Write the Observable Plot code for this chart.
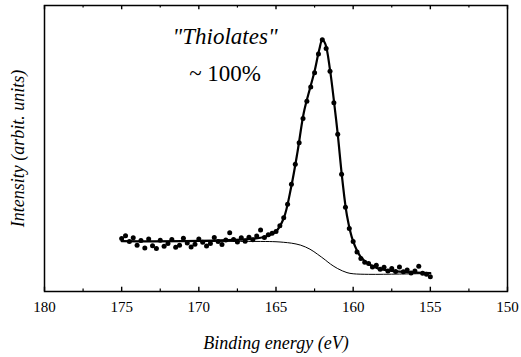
<!DOCTYPE html>
<html>
<head>
<meta charset="utf-8">
<script src="https://cdn.jsdelivr.net/npm/d3@7"></script>
<script src="https://cdn.jsdelivr.net/npm/@observablehq/plot@0.6"></script>
</head>
<body style="margin:0;background:#fff">
<div id="chart"></div>
<script>
// Binding energy (eV) of measured points and their intensities (arbitrary units)
const dataE = [175.0,174.75,174.5,174.25,174.0,173.75,173.5,173.25,173.0,172.75,172.5,172.25,172.0,171.75,171.5,171.25,171.0,170.75,170.5,170.25,170.0,169.75,169.5,169.25,169.0,168.75,168.5,168.25,168.0,167.75,167.5,167.25,167.0,166.75,166.5,166.25,166.0,165.75,165.5,165.25,165.0,164.75,164.5,164.25,164.0,163.75,163.5,163.25,163.0,162.75,162.5,162.25,162.0,161.75,161.5,161.25,161.0,160.75,160.5,160.25,160.0,159.75,159.5,159.25,159.0,158.75,158.5,158.25,158.0,157.75,157.5,157.25,157.0,156.75,156.5,156.25,156.0,155.75,155.5,155.25,155.0];
const dataI = [18.5,19.5,17.5,18.8,16.2,17.8,15.2,18.4,16.0,15.0,17.9,15.8,16.8,18.2,15.5,16.2,18.6,17.0,15.6,16.5,18.4,17.2,15.9,16.8,18.9,17.5,16.4,18.0,20.5,18.2,17.3,18.8,17.6,19.0,18.1,19.4,21.5,18.9,19.8,20.4,21.0,23.0,25.8,30.5,37.5,44.5,52.0,60.5,66.5,71.5,76.5,83.0,88.0,85.0,77.0,66.0,55.0,41.0,29.5,22.0,17.5,13.8,11.5,10.2,9.8,8.6,9.2,7.8,8.5,7.2,8.0,7.0,8.6,6.9,7.5,6.5,7.2,8.8,6.4,6.0,5.2];

// Fitted envelope
const fitE = [175,173,171,169,167,166,165.5,165,164.5,164.0,163.6,163.2,162.8,162.5,162.2,162.0,161.8,161.5,161.2,161.0,160.7,160.4,160.0,159.5,159.0,158.4,157.5,156.5,155];
const fitI = [17.6,17.5,17.6,17.8,18.2,18.8,19.5,21.0,25.6,37.0,49.0,62.5,71.0,77.0,84.5,88.0,86.5,77.5,64.5,55.0,39.0,26.5,17.5,12.0,9.6,8.1,7.2,6.8,6.4];

// Background (Shirley-type step)
const bgE = [175,170,166,165,164.5,164,163.4,162.8,162.3,161.8,161.47,161.0,160.4,160.0,159.0,157,155];
const bgI = [17.5,17.5,17.5,17.4,17.2,16.9,16.2,14.8,13.0,11.0,9.6,8.0,6.6,6.2,6.0,6.1,6.3];

// Axis ticks
const majorTicks = [180,175,170,165,160,155,150];
const minorTicks = [177.5,172.5,167.5,162.5,157.5,152.5];

const titleLines = ["\"Thiolates\"", "~ 100%"];
const xLabel = "Binding energy (eV)";
const yLabel = "Intensity (arbit. units)";

const points = dataE.map((e, i) => ({e, v: dataI[i]}));
const fit = fitE.map((e, i) => ({e, v: fitI[i]}));
const bg = bgE.map((e, i) => ({e, v: bgI[i]}));

const FONT = "Liberation Serif";

const chart = Plot.plot({
  width: 521,
  height: 357,
  marginTop: 5,
  marginBottom: 66,
  marginLeft: 44,
  marginRight: 14,
  x: {domain: [180, 150]},
  y: {domain: [0, 100], axis: null},
  marks: [
    Plot.ruleX(majorTicks, {x: d => d, y1: 0, y2: 1.5, stroke: "black", strokeWidth: 1.4}),
    Plot.ruleX(minorTicks, {x: d => d, y1: 0, y2: 0.9, stroke: "black", strokeWidth: 1.2}),
    Plot.ruleX(majorTicks, {x: d => d, y1: 100, y2: 98.5, stroke: "black", strokeWidth: 1.4}),
    Plot.ruleX(minorTicks, {x: d => d, y1: 100, y2: 99.1, stroke: "black", strokeWidth: 1.2}),
    Plot.frame({stroke: "black", strokeWidth: 1.5}),
    Plot.axisX({anchor: "bottom", ticks: majorTicks, tickSize: 0, tickPadding: 10, fontSize: 15, fontFamily: FONT, fill: "black", label: null, tickFormat: d => String(d)}),
    Plot.line(bg, {x: "e", y: "v", curve: "catmull-rom", stroke: "black", strokeWidth: 1}),
    Plot.line(fit, {x: "e", y: "v", curve: "catmull-rom", stroke: "black", strokeWidth: 2.2}),
    Plot.dot(points, {x: "e", y: "v", r: 2.5, fill: "black", stroke: "none"}),
    Plot.text([titleLines[0]], {x: 168.3, y: 86.5, text: d => d, fontSize: 23, fontFamily: FONT, fontStyle: "italic", lineAnchor: "bottom", fill: "black"}),
    Plot.text([titleLines[1]], {x: 168.3, y: 73.5, text: d => d, fontSize: 23, fontFamily: FONT, lineAnchor: "bottom", fill: "black"}),
    Plot.text([xLabel], {frameAnchor: "bottom", dy: 57, text: d => d, fontSize: 18, fontFamily: FONT, fontStyle: "italic", lineAnchor: "bottom", fill: "black"}),
    Plot.text([yLabel], {frameAnchor: "left", dx: -26, rotate: -90, textAnchor: "middle", text: d => d, fontSize: 18, fontFamily: FONT, fontStyle: "italic", fill: "black"})
  ]
});
document.getElementById("chart").appendChild(chart);
</script>
</body>
</html>
